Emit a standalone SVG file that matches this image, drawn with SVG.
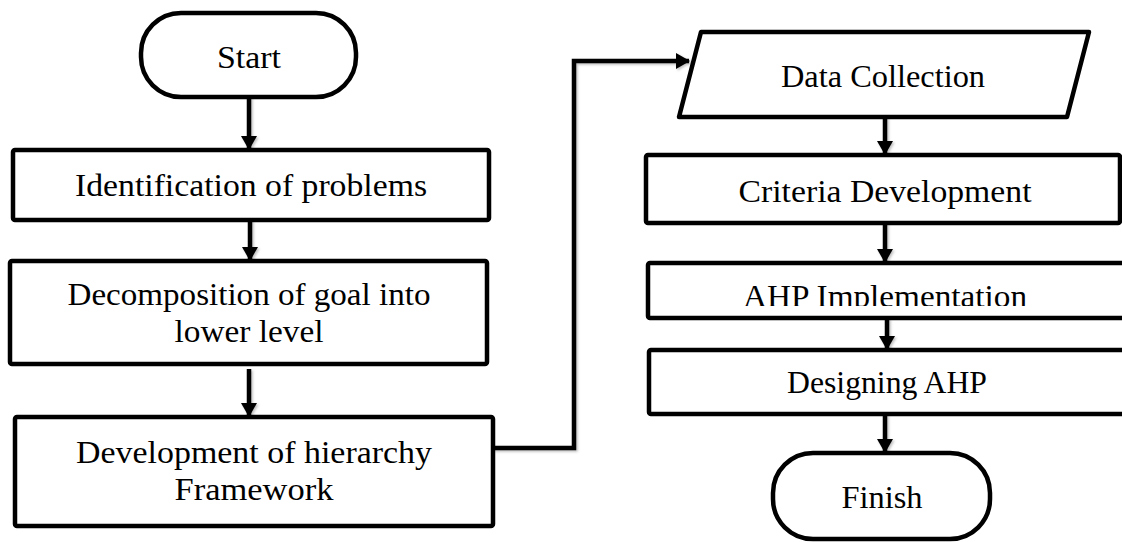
<svg xmlns="http://www.w3.org/2000/svg" width="1122" height="542" viewBox="0 0 1122 542">
  <style>
    .shape { fill: #ffffff; stroke: #000000; stroke-width: 4.5; stroke-linejoin: round; }
    .label { font-family: "Liberation Serif", "Times New Roman", serif; font-size: 32px; fill: #000000; text-anchor: middle; }
    .wire { fill: none; stroke: #000000; stroke-width: 4.5; stroke-linejoin: miter; }
  </style>
  <defs>
    <marker id="arrow" markerUnits="userSpaceOnUse" markerWidth="14" markerHeight="16" refX="13" refY="8" orient="auto">
      <path d="M0,0 L14,8 L0,16 Z" fill="#000000"/>
    </marker>
    <filter id="soft" x="-10%" y="-10%" width="130%" height="130%">
      <feDropShadow dx="1.5" dy="1.5" stdDeviation="1.2" flood-color="#000000" flood-opacity="0.25"/>
    </filter>
    <clipPath id="clipImpl">
      <rect x="640" y="263" width="490" height="43"/>
    </clipPath>
  </defs>
  <rect width="1122" height="542" fill="#ffffff"/>

  <!-- connectors -->
  <g id="connectors" filter="url(#soft)">
    <line class="wire" x1="249" y1="97" x2="249" y2="149" marker-end="url(#arrow)"/>
    <line class="wire" x1="250" y1="220" x2="250" y2="260" marker-end="url(#arrow)"/>
    <line class="wire" x1="249" y1="369" x2="249" y2="416" marker-end="url(#arrow)"/>
    <path class="wire" d="M493,448 H574 V61 H689" marker-end="url(#arrow)"/>
    <line class="wire" x1="885" y1="117" x2="885" y2="154" marker-end="url(#arrow)"/>
    <line class="wire" x1="885" y1="223" x2="885" y2="262" marker-end="url(#arrow)"/>
    <line class="wire" x1="887" y1="318" x2="887" y2="349" marker-end="url(#arrow)"/>
    <line class="wire" x1="885" y1="414" x2="885" y2="452" marker-end="url(#arrow)"/>
  </g>

  <!-- left column -->
  <g id="start">
    <rect class="shape" x="141" y="13" width="215" height="84" rx="40" ry="40"/>
    <text class="label" x="249" y="68" textLength="64" lengthAdjust="spacingAndGlyphs">Start</text>
  </g>
  <g id="identification">
    <rect class="shape" x="13" y="150" width="476" height="70" rx="2"/>
    <text class="label" x="251" y="196" textLength="352" lengthAdjust="spacingAndGlyphs">Identification of problems</text>
  </g>
  <g id="decomposition">
    <rect class="shape" x="10" y="261" width="477" height="103" rx="2"/>
    <text class="label" x="249" y="305" textLength="363" lengthAdjust="spacingAndGlyphs">Decomposition of goal into</text>
    <text class="label" x="249" y="342" textLength="149" lengthAdjust="spacingAndGlyphs">lower level</text>
  </g>
  <g id="hierarchy">
    <rect class="shape" x="15" y="417" width="478" height="109" rx="2"/>
    <text class="label" x="254" y="463" textLength="356" lengthAdjust="spacingAndGlyphs">Development of hierarchy</text>
    <text class="label" x="254" y="500" textLength="159" lengthAdjust="spacingAndGlyphs">Framework</text>
  </g>

  <!-- right column -->
  <g id="data-collection">
    <polygon class="shape" points="701,32 1089,32 1067,117 679,117"/>
    <text class="label" x="883" y="87" textLength="204" lengthAdjust="spacingAndGlyphs">Data Collection</text>
  </g>
  <g id="criteria">
    <rect class="shape" x="646" y="155" width="474" height="68" rx="2"/>
    <text class="label" x="885" y="202" textLength="293" lengthAdjust="spacingAndGlyphs">Criteria Development</text>
  </g>
  <g id="ahp-implementation">
    <rect class="shape" x="648" y="263" width="478" height="55" rx="2"/>
    <text class="label" x="885" y="307" textLength="284" lengthAdjust="spacingAndGlyphs" clip-path="url(#clipImpl)">AHP Implementation</text>
  </g>
  <g id="designing">
    <rect class="shape" x="649" y="350" width="477" height="64" rx="2"/>
    <text class="label" x="887" y="393" textLength="200" lengthAdjust="spacingAndGlyphs">Designing AHP</text>
  </g>
  <g id="finish">
    <rect class="shape" x="773" y="453" width="217" height="86" rx="40" ry="40"/>
    <text class="label" x="882" y="508" textLength="81" lengthAdjust="spacingAndGlyphs">Finish</text>
  </g>
</svg>
